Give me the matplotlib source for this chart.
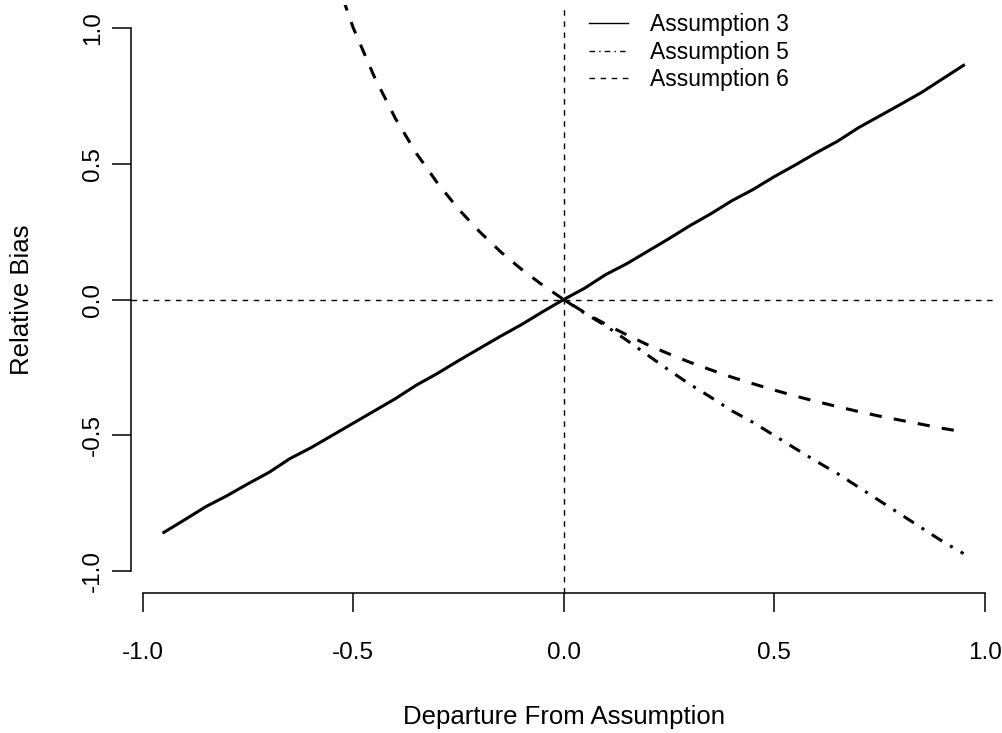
import matplotlib

matplotlib.use("Agg")
import matplotlib.pyplot as plt
from matplotlib.lines import Line2D

# --- values -----------------------------------------------------------------
x_full = [-0.95, -0.90, -0.85, -0.80, -0.75, -0.70, -0.65, -0.60, -0.55, -0.50,
          -0.45, -0.40, -0.35, -0.30, -0.25, -0.20, -0.15, -0.10, -0.05, 0.00,
          0.05, 0.10, 0.15, 0.20, 0.25, 0.30, 0.35, 0.40, 0.45, 0.50,
          0.55, 0.60, 0.65, 0.70, 0.75, 0.80, 0.85, 0.90, 0.95]
bias_a3 = [-0.857, -0.81, -0.762, -0.722, -0.678, -0.636, -0.585, -0.545, -0.50, -0.455,
           -0.41, -0.365, -0.315, -0.272, -0.225, -0.18, -0.135, -0.092, -0.045, 0.0,
           0.042, 0.092, 0.132, 0.178, 0.224, 0.272, 0.316, 0.364, 0.405, 0.452,
           0.495, 0.54, 0.582, 0.632, 0.675, 0.718, 0.762, 0.812, 0.862]

x_pos = [0.00, 0.05, 0.10, 0.15, 0.20, 0.25, 0.30, 0.35, 0.40, 0.45, 0.50,
         0.55, 0.60, 0.65, 0.70, 0.75, 0.80, 0.85, 0.90, 0.95]
bias_a5 = [0.0, -0.05, -0.097, -0.15, -0.205, -0.26, -0.312, -0.36, -0.41, -0.452, -0.50,
           -0.548, -0.595, -0.64, -0.69, -0.74, -0.79, -0.84, -0.89, -0.935]

x_a6 = [-0.55, -0.50, -0.45, -0.40, -0.35, -0.30, -0.25, -0.20, -0.15, -0.10, -0.05,
        0.00, 0.05, 0.10, 0.15, 0.20, 0.25, 0.30, 0.35, 0.40, 0.45, 0.50,
        0.55, 0.60, 0.65, 0.70, 0.75, 0.80, 0.85, 0.90, 0.95]
bias_a6 = [1.22, 1.0, 0.82, 0.667, 0.538, 0.429, 0.333, 0.25, 0.176, 0.111, 0.053,
           0.0, -0.048, -0.091, -0.13, -0.167, -0.2, -0.231, -0.259, -0.286, -0.31, -0.333,
           -0.355, -0.375, -0.394, -0.412, -0.429, -0.444, -0.459, -0.474, -0.487]

labels = ["Assumption 3", "Assumption 5", "Assumption 6"]
ticks = [-1.0, -0.5, 0.0, 0.5, 1.0]

plt.rcParams.update({
    "font.family": ["Liberation Sans", "DejaVu Sans"],
    "font.size": 17.5,
})

DASH = (0, (4, 4))
DASHDOT = (0, (4, 3, 1, 3))

fig = plt.figure(figsize=(10.03, 7.33), dpi=100)
ax = fig.add_axes([131 / 1003, 140 / 733, 862 / 1003, 588 / 733])

ax.axhline(0, color="black", lw=1.0, ls=DASH)
ax.axvline(0, color="black", lw=1.0, ls=DASH)

lw = 2.2
ax.plot(x_full, bias_a3, color="black", lw=lw, ls="-")
ax.plot(x_pos, bias_a5, color="black", lw=lw, ls=DASHDOT)
ax.plot(x_a6, bias_a6, color="black", lw=lw, ls=DASH)

ax.set_xlim(-1.028, 1.02)
ax.set_ylim(-1.08, 1.084)

for side in ("top", "right"):
    ax.spines[side].set_visible(False)
ax.spines["bottom"].set_bounds(-1, 1)
ax.spines["left"].set_bounds(-1, 1)
for side in ("bottom", "left"):
    ax.spines[side].set_linewidth(1.1)

ax.set_xticks(ticks)
ax.set_yticks(ticks)
ax.set_xticklabels([f"{t:.1f}" for t in ticks])
ax.set_yticklabels([f"{t:.1f}" for t in ticks], rotation=90, va="center")
ax.tick_params(direction="out", length=13.5, width=1.1)
ax.tick_params(axis="x", pad=22)
ax.tick_params(axis="y", pad=6)

# axis titles placed like R's mtext lines
fig.text(564 / 1003, 1 - 717 / 733, "Departure From Assumption",
         ha="center", va="center", fontsize=18.5)
fig.text(22 / 1003, 1 - 300 / 733, "Relative Bias",
         ha="center", va="center", rotation=90, fontsize=18.5)

handles = [
    Line2D([], [], color="black", lw=1.0, ls="-"),
    Line2D([], [], color="black", lw=1.0, ls=DASHDOT),
    Line2D([], [], color="black", lw=1.0, ls=DASH),
]
fig.legend(handles, labels, loc="upper left", bbox_to_anchor=(589 / 1003, 1 - 13 / 733),
           frameon=False, handlelength=1.7, handletextpad=0.95, labelspacing=0.2,
           borderaxespad=0, borderpad=0.0, fontsize=16.5)

fig.savefig("out.png", dpi=100)
